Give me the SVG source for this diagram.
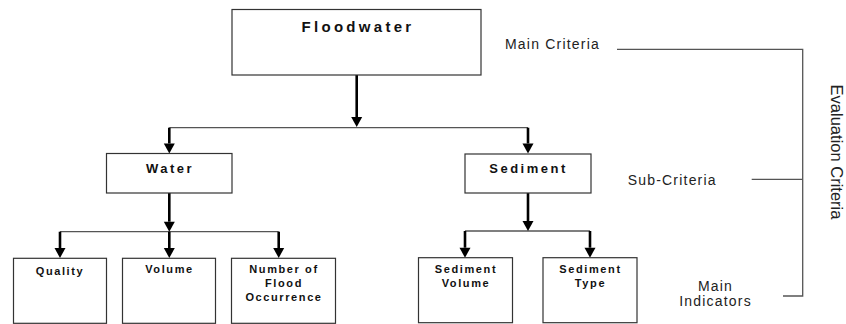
<svg xmlns="http://www.w3.org/2000/svg" width="846" height="324" viewBox="0 0 846 324">
  <style>
    .box { fill: #ffffff; stroke: #333333; stroke-width: 1.2; }
    .title { font-family: "Liberation Sans", Arial, sans-serif; font-weight: bold; fill: #111111; text-anchor: middle; }
    .t1 { font-size: 15px; letter-spacing: 3.3px; }
    .t2 { font-size: 13px; letter-spacing: 2.5px; }
    .t3 { font-size: 11px; letter-spacing: 1.6px; }
    .note { font-family: "Liberation Sans", Arial, sans-serif; font-size: 14px; letter-spacing: 1.2px; fill: #222222; }
    .thin { stroke: #555555; stroke-width: 1.3; fill: none; }
    .shaft { stroke: #000000; stroke-width: 2.6; fill: none; marker-end: url(#head); }
  </style>
  <defs>
    <marker id="head" markerUnits="userSpaceOnUse" viewBox="0 -6 10 12" refX="0" refY="0" markerWidth="10" markerHeight="12" orient="auto" overflow="visible">
      <path d="M0,-5.5 L10,0 L0,5.5 Z" fill="#000000"/>
    </marker>
  </defs>

  <rect width="846" height="324" fill="#ffffff"/>

  <!-- connectors: branch lines and arrow shafts -->
  <g id="connectors">
    <!-- level 1 branch -->
    <line class="thin" x1="169.3" y1="127.7" x2="528" y2="127.7"/>
    <line class="shaft" x1="356.7" y1="75" x2="356.7" y2="117"/>
    <line class="shaft" x1="169.3" y1="127.7" x2="169.3" y2="143.5"/>
    <line class="shaft" x1="528" y1="127.7" x2="528" y2="143.5"/>

    <!-- Water branch -->
    <line class="thin" x1="60" y1="231.7" x2="278.7" y2="231.7"/>
    <line class="shaft" x1="169.3" y1="193" x2="169.3" y2="221.7"/>
    <line class="shaft" x1="60" y1="231.7" x2="60" y2="248"/>
    <line class="shaft" x1="169.3" y1="231.7" x2="169.3" y2="248"/>
    <line class="shaft" x1="278.7" y1="231.7" x2="278.7" y2="248"/>

    <!-- Sediment branch -->
    <line class="thin" x1="465" y1="231" x2="590" y2="231"/>
    <line class="shaft" x1="528" y1="193" x2="528" y2="221"/>
    <line class="shaft" x1="465" y1="231" x2="465" y2="247.7"/>
    <line class="shaft" x1="590" y1="231" x2="590" y2="247.7"/>

    <!-- evaluation bracket -->
    <polyline class="thin" points="617,49.3 802.7,49.3 802.7,296 783,296"/>
    <line class="thin" x1="751.7" y1="179.3" x2="802.7" y2="179.3"/>
  </g>

  <!-- nodes -->
  <g id="floodwater">
    <rect class="box" x="232" y="9.5" width="249" height="65.5"/>
    <text class="title t1" x="358" y="31.5">Floodwater</text>
  </g>

  <g id="water">
    <rect class="box" x="106.5" y="153.5" width="125.5" height="39.5"/>
    <text class="title t2" x="170" y="173.3">Water</text>
  </g>

  <g id="sediment">
    <rect class="box" x="465" y="154" width="126" height="39"/>
    <text class="title t2" x="528.5" y="172.8">Sediment</text>
  </g>

  <g id="quality">
    <rect class="box" x="13.5" y="258.3" width="93" height="65"/>
    <text class="title t3" x="60" y="274.5">Quality</text>
  </g>

  <g id="volume">
    <rect class="box" x="122.5" y="258.3" width="93" height="65"/>
    <text class="title t3" x="169.5" y="273.3">Volume</text>
  </g>

  <g id="flood-occurrence">
    <rect class="box" x="231.5" y="258.3" width="104" height="65"/>
    <text class="title t3" x="284" y="273.3">Number of</text>
    <text class="title t3" x="284" y="287">Flood</text>
    <text class="title t3" x="284" y="300.7">Occurrence</text>
  </g>

  <g id="sediment-volume">
    <rect class="box" x="418.5" y="257.7" width="94" height="65"/>
    <text class="title t3" x="466" y="272.7">Sediment</text>
    <text class="title t3" x="466" y="286.7">Volume</text>
  </g>

  <g id="sediment-type">
    <rect class="box" x="543" y="257.7" width="94" height="65"/>
    <text class="title t3" x="590.5" y="272.7">Sediment</text>
    <text class="title t3" x="590.5" y="286.7">Type</text>
  </g>

  <!-- level labels -->
  <g id="level-labels">
    <text class="note" x="505" y="48.5">Main Criteria</text>
    <text class="note" x="627.7" y="185">Sub-Criteria</text>
    <text class="note" x="715.5" y="290.7" text-anchor="middle">Main</text>
    <text class="note" x="715.5" y="305.7" text-anchor="middle">Indicators</text>
    <text font-family="'Liberation Sans', Arial, sans-serif" font-size="16.5" fill="#222222" text-anchor="middle" transform="translate(831,152) rotate(90)">Evaluation Criteria</text>
  </g>
</svg>
